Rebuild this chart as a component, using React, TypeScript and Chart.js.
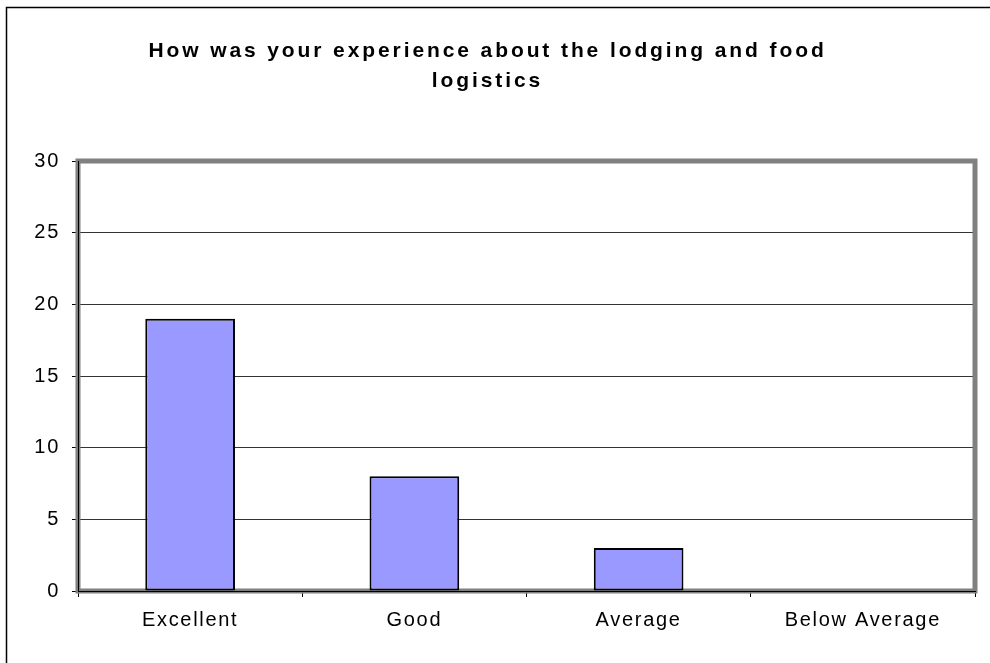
import React, { useEffect, useRef } from "react";
import { Chart, registerables } from "chart.js";

Chart.register(...registerables);

const titleLines = ["How was your experience about the lodging and food", "logistics"];
const categories = ["Excellent", "Good", "Average", "Below Average"];
const responses = [19, 8, 3, 0];
const yMin = 0;
const yMax = 30;
const yStep = 5;

const FONT = "'Liberation Sans', Arial, sans-serif";

const framePlugin = {
  id: "frame",
  beforeDraw(chart: any) {
    const ctx = chart.ctx;
    ctx.save();
    ctx.fillStyle = "#ffffff";
    ctx.fillRect(0, 0, chart.width, chart.height);
    ctx.strokeStyle = "#000000";
    ctx.lineWidth = 1.5;
    ctx.strokeRect(6.5, 7.5, chart.width + 20, chart.height + 20);
    ctx.restore();
    ctx.letterSpacing = "2.9px";
  },
  beforeDatasetsDraw(chart: any) {
    const ctx = chart.ctx;
    const a = chart.chartArea;
    ctx.save();
    ctx.strokeStyle = "#808080";
    ctx.lineWidth = 5;
    ctx.strokeRect(a.left, a.top, a.right - a.left, a.bottom - a.top);
    ctx.restore();
  },
  afterDatasetsDraw(chart: any) {
    chart.ctx.letterSpacing = "1.7px";
  },
  afterDraw(chart: any) {
    chart.ctx.letterSpacing = "0px";
  },
};

export default function App() {
  const ref = useRef<HTMLCanvasElement | null>(null);
  useEffect(() => {
    if (!ref.current) return;
    const chart = new Chart(ref.current, {
      type: "bar",
      data: {
        labels: categories,
        datasets: [
          {
            data: responses,
            backgroundColor: "#9999FF",
            borderColor: "#000000",
            borderWidth: 2,
            borderSkipped: false,
            categoryPercentage: 1,
            barPercentage: 0.4,
          },
        ],
      },
      options: {
        responsive: false,
        animation: false,
        devicePixelRatio: 1,
        layout: { padding: { top: 0, left: 0, right: 15, bottom: 0 } },
        plugins: {
          legend: { display: false },
          tooltip: { enabled: false },
          title: {
            display: true,
            text: titleLines,
            color: "#000000",
            font: { family: FONT, size: 21, weight: "bold", lineHeight: 30 / 21 },
            padding: { top: 36, bottom: 65 },
          },
        },
        scales: {
          x: {
            grid: {
              display: true,
              drawOnChartArea: false,
              drawTicks: true,
              tickLength: 6,
              tickColor: "#000000",
              offset: true,
            },
            border: { display: true, color: "#000000", width: 1, z: 1 },
            ticks: {
              color: "#000000",
              font: { family: FONT, size: 20 },
              padding: 11,
              maxRotation: 0,
              z: 1,
            },
            afterFit(scale: any) {
              scale.height = 72;
            },
          },
          y: {
            min: yMin,
            max: yMax,
            grid: {
              color: "#333333",
              lineWidth: 1,
              drawTicks: true,
              tickLength: 6,
              tickColor: "#000000",
            },
            border: { display: true, color: "#000000", width: 1, z: 1 },
            ticks: {
              stepSize: yStep,
              color: "#000000",
              font: { family: FONT, size: 20 },
              padding: 12,
              z: 1,
            },
            afterFit(scale: any) {
              scale.width = 78;
            },
          },
        },
      },
      plugins: [framePlugin],
    });
    return () => chart.destroy();
  }, []);
  return (
    <div style={{ position: "absolute", left: 0, top: 0, width: 990, height: 663, background: "#fff" }}>
      <canvas ref={ref} width={990} height={663} style={{ display: "block" }} />
    </div>
  );
}
